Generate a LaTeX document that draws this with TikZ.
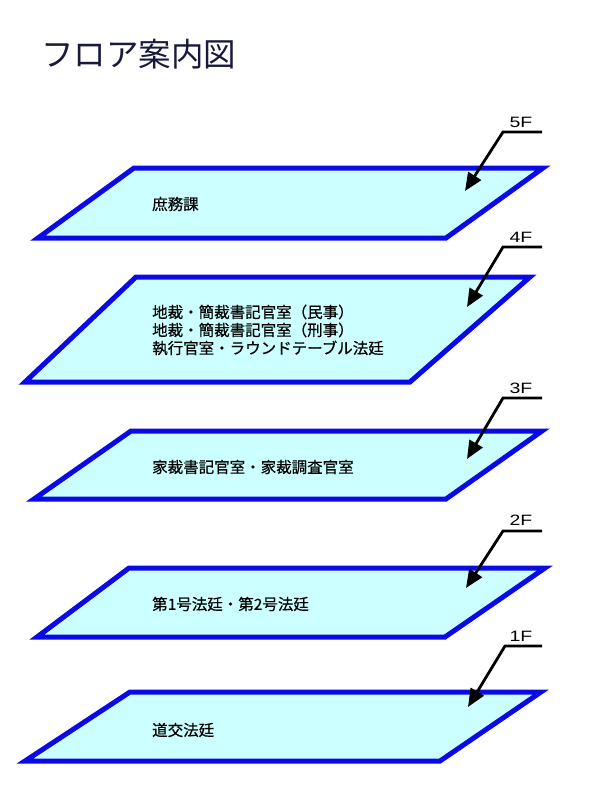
\documentclass[tikz,border=0pt]{standalone}
\usepackage{fontspec}
\usetikzlibrary{arrows.meta}
\newfontfamily\jpfont{Noto Sans CJK JP}
\newfontfamily\jpfontb[FakeBold=0.6]{Noto Sans CJK JP}
\newfontfamily\labfont{Liberation Sans}
\definecolor{floorfill}{RGB}{204,255,255}
\definecolor{flooredge}{RGB}{10,10,230}
\definecolor{titlecol}{RGB}{25,25,60}
\tikzset{
  floor/.style={draw=flooredge, fill=floorfill, line width=5pt, line join=miter},
  roomtext/.style={anchor=west, inner sep=0pt, align=left, font=\jpfontb\fontsize{15.5}{18}\selectfont},
  floorlab/.style={inner sep=0pt, font=\labfont\fontsize{15}{15}\selectfont},
  lead/.style={draw=black, line width=2.8pt, line join=miter, -{Triangle[length=18pt,width=15pt]}},
}
\begin{document}
\begin{tikzpicture}[x=1pt, y=-1pt]
\useasboundingbox (0,0) rectangle (600,798);
% title
\node[anchor=west, inner sep=0pt, text=titlecol, font=\jpfont\fontsize{32.5}{32.5}\selectfont] (title) at (41,54) {フロア案内図};
% 5F
\draw[floor] (134,168) -- (543,168) -- (446,238) -- (38,238) -- cycle;
\node[roomtext] (r5) at (152,204) {庶務課};
% 4F
\draw[floor] (136,277) -- (530,277) -- (410,382) -- (25,382) -- cycle;
\node[roomtext] (r4) at (152,330) {地裁・簡裁書記官室（民事）\\地裁・簡裁書記官室（刑事）\\執行官室・ラウンドテーブル法廷};
% 3F
\draw[floor] (131,431) -- (542,431) -- (446,499) -- (34,499) -- cycle;
\node[roomtext] (r3) at (152,467) {家裁書記官室・家裁調査官室};
% 2F
\draw[floor] (129,568) -- (545,568) -- (445,637) -- (37,637) -- cycle;
\node[roomtext] (r2) at (152,604) {第1号法廷・第2号法廷};
% 1F
\draw[floor] (130,692) -- (541,692) -- (440,761) -- (25,761) -- cycle;
\node[roomtext] (r1) at (152,730) {道交法廷};
% floor labels and pointers
\node[floorlab] (l5) at (521,122) {\scalebox{1.3}[1]{5F}};
\coordinate (e5) at (542,132); \coordinate (k5) at (503,132); \coordinate (t5) at (465,191);
\draw[lead] (e5) -- (k5) -- (t5);
\node[floorlab] (l4) at (521,237) {\scalebox{1.3}[1]{4F}};
\coordinate (e4) at (542,247); \coordinate (k4) at (503,247); \coordinate (t4) at (467,307);
\draw[lead] (e4) -- (k4) -- (t4);
\node[floorlab] (l3) at (521,388) {\scalebox{1.3}[1]{3F}};
\coordinate (e3) at (542,398); \coordinate (k3) at (503,398); \coordinate (t3) at (467,459);
\draw[lead] (e3) -- (k3) -- (t3);
\node[floorlab] (l2) at (521,520) {\scalebox{1.3}[1]{2F}};
\coordinate (e2) at (542,531); \coordinate (k2) at (503,531); \coordinate (t2) at (466,588);
\draw[lead] (e2) -- (k2) -- (t2);
\node[floorlab] (l1) at (521,636) {\scalebox{1.3}[1]{1F}};
\coordinate (e1) at (542,646); \coordinate (k1) at (505,646); \coordinate (t1) at (468,707);
\draw[lead] (e1) -- (k1) -- (t1);
\end{tikzpicture}
\end{document}
